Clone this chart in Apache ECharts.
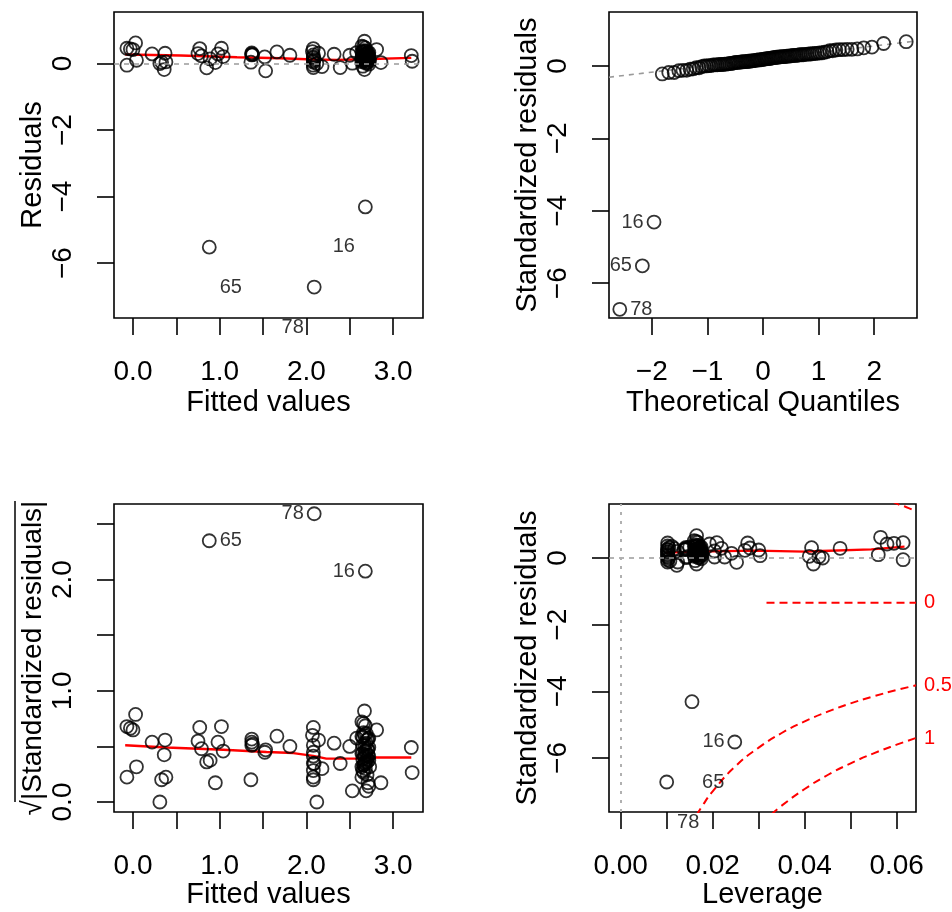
<!DOCTYPE html>
<html><head><meta charset="utf-8">
<script src="https://cdn.jsdelivr.net/npm/echarts@6/dist/echarts.min.js"></script>
<style>html,body{margin:0;padding:0;background:#fff}#c{width:952px;height:912px}</style>
</head><body><div id="c"></div>
<script>
// ---------------- data ----------------
const fitted = [
 -0.07,-0.03,0.00,0.03,-0.07,0.04,0.22,0.37,0.36,0.38,0.33,0.31,2.64,2.66,2.68,
 2.68,
 0.77,0.75,0.79,1.02,0.98,1.04,0.89,0.85,0.95,
 1.37,1.37,1.37,1.52,1.53,1.36,1.38,
 1.66,1.81,
 2.08,2.14,2.08,2.08,2.08,2.08,2.08,2.18,2.08,2.08,2.12,2.07,2.09,
 2.70,2.72,2.65,2.67,2.69,2.71,2.64,2.66,2.68,2.70,2.72,2.65,2.67,2.69,2.71,2.64,2.66,
 0.88,
 2.32,2.39,2.50,2.53,
 2.68,2.70,2.72,2.65,2.67,2.69,2.71,2.64,
 2.09,
 2.67,2.81,2.86,2.58,2.73,
 3.21,3.22,
 2.66,2.68,2.70,2.72,2.65,2.67,2.69,2.71,2.64,2.66,2.68,2.70,2.72,2.65,2.67
];
const residuals = [
 0.46,0.44,0.42,0.62,-0.05,0.10,0.29,0.31,-0.18,0.05,0.04,0.00,0.52,0.50,0.47,
 -4.31,
 0.45,0.30,0.23,0.46,0.29,0.21,0.14,-0.13,0.03,
 0.32,0.29,0.26,0.20,-0.22,0.04,0.27,
 0.35,0.25,
 0.45,0.31,0.26,0.20,0.17,-0.12,0.08,-0.09,0.04,-0.05,0.00,0.36,0.12,
 0.31,0.33,0.34,0.36,0.38,0.32,0.35,0.39,0.21,0.23,0.24,0.26,0.27,0.28,0.22,0.10,0.11,
 -5.52,
 0.28,-0.12,0.25,0.01,
 0.12,0.13,0.14,0.15,0.16,0.17,0.18,0.19,
 -6.72,
 0.67,0.42,0.03,0.33,0.10,
 0.24,0.07,
 0.11,0.13,0.15,0.17,0.19,0.12,0.01,0.03,0.05,0.07,0.09,0.06,-0.02,-0.08,-0.18
];
const leverage = [
 0.0614,0.0594,0.0579,0.0565,0.0614,0.0560,0.0477,0.0415,0.0419,0.0410,0.0431,0.0439,0.0160,0.0164,0.0167,
 0.0155,
 0.0276,0.0281,0.0270,0.0209,0.0219,0.0204,0.0241,0.0252,0.0226,
 0.0142,0.0142,0.0142,0.0123,0.0122,0.0144,0.0141,
 0.0111,0.0102,
 0.0102,0.0105,0.0102,0.0102,0.0102,0.0102,0.0102,0.0107,0.0102,0.0102,0.0104,0.0102,0.0102,
 0.0171,0.0175,0.0162,0.0165,0.0169,0.0173,0.0160,0.0164,0.0167,0.0171,0.0175,0.0162,0.0165,0.0169,0.0173,0.0160,0.0164,
 0.0248,
 0.0117,0.0124,0.0138,0.0142,
 0.0167,0.0171,0.0175,0.0162,0.0165,0.0169,0.0173,0.0160,
 0.0100,
 0.0165,0.0193,0.0204,0.0150,0.0177,
 0.0300,0.0303,
 0.0164,0.0167,0.0171,0.0175,0.0162,0.0165,0.0169,0.0173,0.0160,0.0164,0.0167,0.0171,0.0175,0.0162,0.0165
];
const labelledObs = [16, 65, 78];
const theoreticalQuantiles = [
 -2.576,-2.170,-1.960,-1.812,-1.695,-1.598,-1.514,-1.440,-1.372,-1.311,
 -1.254,-1.200,-1.150,-1.103,-1.058,-1.015,-0.974,-0.935,-0.896,-0.860,
 -0.824,-0.789,-0.755,-0.722,-0.690,-0.659,-0.628,-0.598,-0.568,-0.539,
 -0.510,-0.482,-0.454,-0.426,-0.399,-0.372,-0.345,-0.319,-0.292,-0.266,
 -0.240,-0.215,-0.189,-0.164,-0.138,-0.113,-0.088,-0.063,-0.038,-0.013,
 0.013,0.038,0.063,0.088,0.113,0.138,0.164,0.189,0.215,0.240,
 0.266,0.292,0.319,0.345,0.372,0.399,0.426,0.454,0.482,0.510,
 0.539,0.568,0.598,0.628,0.659,0.690,0.722,0.755,0.789,0.824,
 0.860,0.896,0.935,0.974,1.015,1.058,1.103,1.150,1.200,1.254,
 1.311,1.372,1.440,1.514,1.598,1.695,1.812,1.960,2.170,2.576
];
const qqLinePoints = [[-2.77,-0.31],[2.77,0.69]];
const residSmooth = [[-0.09,0.27],[0.55,0.24],[1.2,0.19],[1.7,0.16],[2.08,0.12],[2.35,0.11],[2.66,0.13],[3.21,0.17]];
const scaleSmooth = [[-0.09,0.51],[0.39,0.49],[1.04,0.47],[1.54,0.45],[1.85,0.44],[2.08,0.415],[2.23,0.39],[2.62,0.39],[2.69,0.40],[3.21,0.40]];
const leverageSmooth = [[0.0098,0.16],[0.017,0.19],[0.0292,0.22],[0.040,0.19],[0.0437,0.21],[0.0545,0.26],[0.0617,0.34]];
const cookZero = [[0.0317,-1.34],[0.0642,-1.34]];
const cookHalf = [[0.0165,-7.72],[0.0175,-7.49],[0.02,-7.0],[0.025,-6.24],[0.03,-5.69],[0.035,-5.25],[0.04,-4.90],[0.045,-4.61],[0.05,-4.36],[0.055,-4.15],[0.06,-3.96],[0.0642,-3.82]];
const cookOne = [[0.0328,-7.69],[0.035,-7.43],[0.04,-6.93],[0.045,-6.51],[0.05,-6.16],[0.055,-5.86],[0.06,-5.60],[0.0642,-5.40]];
const cookTop = [[0.0590,1.70],[0.0605,1.60],[0.0620,1.53],[0.0642,1.40]];
const cookLabels = ['0', '0.5', '1'];
const fittedTicks = [0,0.5,1,1.5,2,2.5,3];
const fittedTickLabels = [0,1,2,3];
const residTicks = [-6,-4,-2,0];
const quantTicks = [-2,-1,0,1,2];
const sqrtTicks = [0,0.5,1,1.5,2,2.5];
const sqrtTickLabels = [0,1,2];
const levTicks = [0,0.01,0.02,0.03,0.04,0.05,0.06];
const levTickLabels = [0,0.02,0.04,0.06];

// ---------------- chart ----------------
const FONT = '"Liberation Sans", Arial, Helvetica, sans-serif';
const TICK_FS = 28, NAME_FS = 29, ID_FS = 20;
const minus = s => String(s).replace('-', '\u2212');

const sqrtAbs = residuals.map(r => Math.sqrt(Math.abs(r)));
const order = residuals.map((r, i) => i).sort((a, b) => residuals[a] - residuals[b]);

const labelCfg = [
  {16: 'left', 65: 'right', 78: 'left', dy: 40},
  {16: 'left', 65: 'left', 78: 'right', dy: 0},
  {16: 'left', 65: 'right', 78: 'left', dy: 0},
  {16: 'right', 65: 'left', 78: 'right', dy: 40}
];
function item(x, y, idx, p) {
  const obs = idx + 1;
  if (labelledObs.indexOf(obs) < 0) return [x, y];
  return {value: [x, y], label: {show: true, formatter: String(obs), position: labelCfg[p][obs],
    distance: 3, offset: [0, labelCfg[p].dy], fontSize: ID_FS, fontFamily: FONT, color: '#000',
    textBorderWidth: 0}};
}
const pts1 = fitted.map((f, i) => item(f, residuals[i], i, 0));
const pts2 = order.map((idx, k) => item(theoreticalQuantiles[k], residuals[idx], idx, 1));
const pts3 = fitted.map((f, i) => item(f, sqrtAbs[i], i, 2));
const pts4 = leverage.map((h, i) => item(h, residuals[i], i, 3));

const grids = [
  {left: 114, top: 12, width: 309, height: 306},
  {left: 609, top: 12, width: 308, height: 306},
  {left: 114, top: 504, width: 309, height: 308},
  {left: 609, top: 504, width: 307, height: 308}
].map(g => Object.assign(g, {show: true, borderColor: '#000', borderWidth: 1.6, backgroundColor: 'transparent'}));

function axis(type, gi, min, max, ticks, labels, fmt, name, gap, nameFs) {
  return {
    type: 'value', gridIndex: gi, min, max, name, nameLocation: 'middle', nameGap: gap,
    position: type === 'x' ? 'bottom' : 'left',
    nameTextStyle: {fontSize: nameFs || NAME_FS, fontFamily: FONT, color: '#000'},
    axisLine: {show: false, onZero: false}, splitLine: {show: false},
    axisTick: {show: true, inside: false, length: 17, customValues: ticks, lineStyle: {color: '#000', width: 1.6}},
    axisLabel: {show: true, customValues: labels, formatter: fmt, fontSize: TICK_FS, fontFamily: FONT, color: '#000',
      margin: type === 'x' ? 40 : 37, rotate: type === 'x' ? 0 : 90}
  };
}
const f1 = v => v.toFixed(1), f2 = v => v.toFixed(2), fi = v => minus(v);

const xAxes = [
  axis('x', 0, -0.219, 3.345, fittedTicks, fittedTickLabels, f1, 'Fitted values', 70),
  axis('x', 1, -2.77, 2.77, quantTicks, quantTicks, fi, 'Theoretical Quantiles', 70),
  axis('x', 2, -0.219, 3.345, fittedTicks, fittedTickLabels, f1, 'Fitted values', 67),
  axis('x', 3, -0.00254, 0.0642, levTicks, levTickLabels, f2, 'Leverage', 67)
];
const yAxes = [
  axis('y', 0, -7.65, 1.55, residTicks, residTicks, fi, 'Residuals', 67),
  axis('y', 1, -6.96, 1.49, residTicks, residTicks, fi, 'Standardized residuals', 67),
  axis('y', 2, -0.09, 2.68, sqrtTicks, sqrtTickLabels, f1, '\u221A|Standardized residuals|', 67, 28),
  axis('y', 3, -7.62, 1.62, residTicks, residTicks, fi, 'Standardized residuals', 67)
];

const circle = {symbol: 'circle', symbolSize: 13, itemStyle: {color: 'rgba(0,0,0,0)', borderColor: '#000', borderWidth: 1.8}};
function scatter(i, data, extra) {
  return Object.assign({type: 'scatter', xAxisIndex: i, yAxisIndex: i, data, silent: true, z: 3}, circle, extra || {});
}
function line(i, data, style, extra) {
  return Object.assign({type: 'line', xAxisIndex: i, yAxisIndex: i, data, showSymbol: false, symbol: 'none',
    silent: true, lineStyle: style, z: 2}, extra || {});
}
const grayDash = {color: '#9a9a9a', width: 1.6, type: [5, 5]};
const redSolid = {color: '#ff0000', width: 2.4};
const redDash = {color: '#ff0000', width: 2, type: [8, 5]};
function zeroMark(extra) {
  return {silent: true, symbol: 'none', animation: false, label: {show: false},
    lineStyle: grayDash, data: [{yAxis: 0}].concat(extra || [])};
}
function endLab(t) {
  return {show: true, formatter: t, color: '#ff0000', fontSize: ID_FS, fontFamily: FONT, distance: 8};
}

const series = [
  scatter(0, pts1, {markLine: zeroMark()}),
  line(0, residSmooth, redSolid),
  scatter(1, pts2),
  line(1, qqLinePoints, grayDash, {z: 1}),
  scatter(2, pts3),
  line(2, scaleSmooth, redSolid),
  scatter(3, pts4, {markLine: zeroMark([{xAxis: 0, lineStyle: {color: '#b0b0b0', width: 2, type: [3, 6]}}])}),
  line(3, leverageSmooth, redSolid),
  line(3, cookZero, redDash, {endLabel: endLab(cookLabels[0])}),
  line(3, cookHalf, redDash, {smooth: true, endLabel: endLab(cookLabels[1])}),
  line(3, cookOne, redDash, {smooth: true, endLabel: endLab(cookLabels[2])}),
  line(3, cookTop, redDash, {smooth: true})
];

const chart = echarts.init(document.getElementById('c'), null, {renderer: 'canvas'});
chart.setOption({
  animation: false,
  backgroundColor: '#fff',
  textStyle: {fontFamily: FONT},
  grid: grids, xAxis: xAxes, yAxis: yAxes, series,
  // overbar of the square-root sign in the lower-left axis title
  graphic: [{type: 'line', silent: true, shape: {x1: 15, y1: 501, x2: 15, y2: 802},
    style: {stroke: '#000', lineWidth: 1.5}}]
});
</script>
</body></html>
